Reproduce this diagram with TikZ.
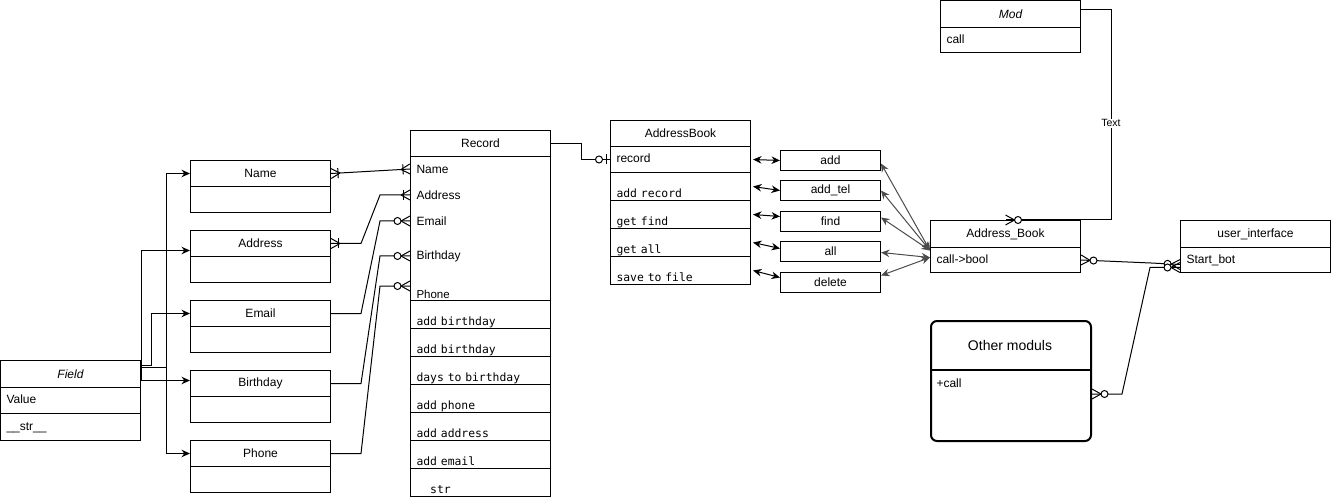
\documentclass[tikz,border=0pt,12pt]{standalone}
\usepackage{fontspec}
\setmainfont{Liberation Sans}
\setmonofont{DejaVu Sans Mono}
\usetikzlibrary{arrows.meta,decorations.markings}

\newcommand{\uifont}{\fontsize{12}{14}\selectfont}
\newcommand{\codefont}{\ttfamily\fontsize{11.4}{13}\selectfont}
% crow's foot ends, drawn with the box at x=0
\newcommand{\crowfoot}{\draw (-9pt,0pt) -- (0pt,5pt) (-9pt,0pt) -- (0pt,-5pt);}
\newcommand{\zmtip}{\crowfoot\draw[fill=white] (-12.5pt,0pt) circle (3.5pt);}
\newcommand{\omtip}{\crowfoot\draw (-7pt,5pt) -- (-7pt,-5pt);}
\newcommand{\zotip}{\draw (-4pt,5pt) -- (-4pt,-5pt);\draw[fill=white] (-11pt,0pt) circle (3.5pt);}

\tikzset{
  hd/.style={draw, anchor=north west, minimum width=140pt, minimum height=26pt, inner sep=0pt},
  bd/.style={draw, anchor=north west, minimum width=140pt, minimum height=#1, inner sep=0pt},
  bd/.default=26pt,
  rw/.style={draw, anchor=north west, minimum height=#1, text width=128pt, inner xsep=6pt,
    inner ysep=0pt, align=left, text height=9pt, text depth=3pt},
  rw/.default=26pt,
  attr/.style={anchor=west, inner xsep=6pt, inner ysep=0pt},
  mrow/.style={draw, anchor=north west, minimum height=28pt, text width=128pt, inner xsep=6pt,
    inner ysep=0pt, text height=22pt, text depth=0pt, align=left, font=\codefont},
  fn/.style={draw, anchor=north west, minimum width=100pt, minimum height=20pt, inner sep=0pt},
  lbl/.style={fill=white, inner sep=1pt, font=\fontsize{10.5}{12}\selectfont},
  zmEnd/.style={postaction={decorate, decoration={markings, mark=at position 1 with {\zmtip}}}},
  zmStart/.style={postaction={decorate, decoration={markings,
    mark=at position 0 with {\begin{scope}[xscale=-1]\zmtip\end{scope}}}}},
  omEnd/.style={postaction={decorate, decoration={markings, mark=at position 1 with {\omtip}}}},
  omStart/.style={postaction={decorate, decoration={markings,
    mark=at position 0 with {\begin{scope}[xscale=-1]\omtip\end{scope}}}}},
  zoEnd/.style={postaction={decorate, decoration={markings, mark=at position 1 with {\zotip}}}}
}

\begin{document}
\begin{tikzpicture}[x=1pt, y=-1pt, line width=1pt, font=\uifont,
    >={Stealth[length=8.5pt,width=7.5pt]}]
  \useasboundingbox (0,0) rectangle (1331,497);

  % Field base class
  \node[hd, minimum height=27pt, font=\uifont\itshape] (field) at (0,360) {Field};
  \node[rw] (fValue) at (0,387) {Value};
  \node[rw=27pt] (fStr) at (0,413) {\_\_str\_\_};

  % field types
  \foreach \n/\t/\y in {name/Name/160,address/Address/230,email/Email/300,birthday/Birthday/370,phone/Phone/440} {
    \node[hd] (\n) at (190,\y) {\t};
    \node[bd] (\n-b) at (190,\y+26) {};
  }

  \draw[->] ([yshift=6.5pt]field.east) -- ++(25,0) |- (name);
  \draw[->] ([yshift=6.5pt]field.east) -- ++(25,0) |- (phone);
  \draw[->] ([yshift=-6.5pt]field.east) |- ([yshift=-7pt]address.west);
  \draw[->] ([yshift=8.5pt]field.east) -- ++(10,0) |- (email);
  \draw[->] ([yshift=-6.5pt]field.east) -- ([yshift=3pt]birthday.west);

  % Record
  \node[hd] (record) at (410,130) {Record};
  \node[bd=144pt] (rBody) at (410,156) {};
  \node[attr] (rName) at (410,169) {Name};
  \node[attr] (rAddress) at (410,195) {Address};
  \node[attr] (rEmail) at (410,221) {Email};
  \node[attr] (rBirthday) at (410,256) {Birthday};
  \node[attr, font=\fontsize{11.5}{13}\selectfont] (rPhone) at (410,294) {Phone};
  \foreach \s [count=\i] in {add birthday,add birthday,days to birthday,add phone,add address,add email,\hphantom{\_\_}str}
    \node[mrow] (rm\i) at (410,272+28*\i) {\s};

  \draw[omStart, omEnd] (name.east) -- (rName.west);
  \draw[omStart, omEnd] (address.east) -- ++(30,0) -- ([xshift=-30pt]rAddress.west) -- (rAddress.west);
  \draw[zmEnd] (email.east) -- ++(30,0) -- ([xshift=-30pt]rEmail.west) -- (rEmail.west);
  \draw[zmEnd] (birthday.east) -- ++(30,0) -- ([xshift=-30pt]rBirthday.west) -- (rBirthday.west);
  \draw[zmEnd] (phone.east) -- ++(30,0) -- ([xshift=-30pt,yshift=8pt]rPhone.west) -- ([yshift=8pt]rPhone.west);

  % AddressBook
  \node[hd] (addrbook) at (610,120) {AddressBook};
  \node[rw] (abRecord) at (610,146) {record};
  \foreach \s/\n [count=\i] in {add record/abAdd,get find/abFind,get all/abAll,save to file/abSave}
    \node[mrow] (\n) at (610,144+28*\i) {\s};

  \draw[zoEnd] (record.east) -- ++(30,0) |- (abRecord.west);

  % commands
  \foreach \n/\t/\y in {add/add/150,addtel/add\_tel/180,find/find/211,all/all/241,delete/delete/272}
    \node[fn] (\n) at (780,\y) {\t};

  \draw[<->] ([xshift=2pt]abRecord.east) -- (add.west);
  \draw[<->] ([xshift=2pt]abAdd.east) -- (addtel.west);
  \draw[<->] ([xshift=2pt]abFind.east) -- ([yshift=5pt]find.west);
  \draw[<->] ([xshift=2pt]abAll.east) -- ([yshift=3pt]all.west);
  \draw[<->] ([xshift=2pt]abSave.east) -- ([yshift=5pt]delete.west);

  % Mod, Address_Book, user_interface
  \node[hd, minimum height=27pt, font=\uifont\itshape] (mod) at (940,0.5) {Mod};
  \node[rw=25pt] (modCall) at (940,27.5) {call};
  \node[hd, minimum width=150pt, minimum height=27pt] (abk) at (930,220) {Address\_Book};
  \node[rw=25pt, text width=138pt] (abkCall) at (930,247) {call->bool};
  \node[hd, minimum width=150pt, minimum height=27pt] (ui) at (1180,220) {user\_interface};
  \node[rw=25pt, text width=138pt] (uiStart) at (1180,247) {Start\_bot};

  \foreach \n/\s/\e in {add/-3pt/9.5pt,addtel/0pt/9.5pt,find/4pt/9.5pt,all/-1pt/2.5pt,delete/7pt/2.5pt}
    \draw[<->, black!70] ([yshift=\s]\n.east) -- ([yshift=\e]abkCall.west);

  % Other moduls
  \node[draw, line width=2pt, rounded corners=6pt, anchor=north west, minimum width=160pt,
    minimum height=120pt, inner sep=0pt] (others) at (930,320) {};
  \node[font=\fontsize{14}{16}\selectfont] (othersT) at (1010,345) {Other moduls};
  \draw[line width=1.5pt] (others.west |- 0,370) -- (others.east |- 0,370);
  \node[attr] (othersCall) at (930,383) {+call};

  \draw[zmEnd] ([yshift=4.5pt]mod.east) -- ++(30,0) |- (abk.north) node[lbl, pos=0.27] (txt) {Text};
  \draw[zmStart, zmEnd] (abkCall.east) -- ++(70,3) -- ([yshift=-4.5pt]uiStart.west);
  \draw[zmStart, zmEnd] ([yshift=-13pt]others.east) -- ++(30,0)
    -- ([xshift=-30pt,yshift=-7.5pt]uiStart.west) -- ([yshift=-7.5pt]uiStart.west);
\end{tikzpicture}
\end{document}
